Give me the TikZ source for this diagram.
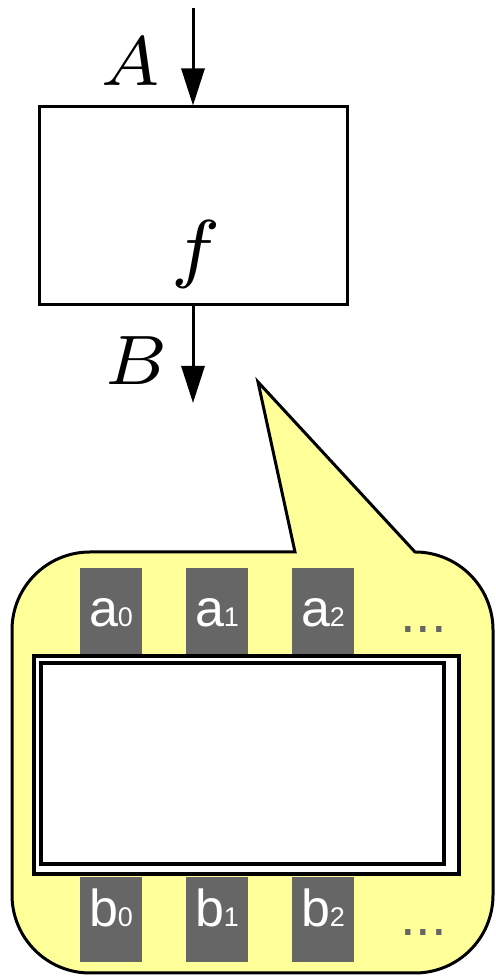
\documentclass[tikz,border=0pt]{standalone}
\usepackage{fontspec}
\newfontfamily\cellfont{Liberation Sans}
\usetikzlibrary{arrows.meta,positioning}
\definecolor{calloutyellow}{RGB}{255,255,153}
\definecolor{cellgray}{RGB}{102,102,102}
\newcommand{\cellsub}[2]{#1{\fontsize{27}{27}\selectfont #2}}
\tikzset{
  mathlabel/.style={inner sep=0pt,font=\scriptsize,scale=10},
  flow/.style={line width=3pt,-{Triangle[length=37pt,width=23pt]}},
  cellbox/.style={fill=cellgray,text=white,minimum width=62pt,inner sep=0pt,
    text depth=0pt,font=\cellfont\fontsize{52}{52}\selectfont},
  moredots/.style={anchor=base,inner sep=0pt,text=cellgray,
    font=\cellfont\fontsize{56}{56}\selectfont},
}

\begin{document}
\begin{tikzpicture}[x=1pt,y=1pt]
\useasboundingbox (0,0) rectangle (495,976);
% function box
\node[draw,line width=3pt,minimum width=308pt,minimum height=198pt,inner sep=0pt]
  (fbox) at (193,770) {};
\node[mathlabel,scale=1.09] (flabel) at (196,722) {$f$};
\coordinate (in) at (193,968);
\coordinate (out) at (193,573);
\draw[flow] (in) -- (fbox.north);
\draw[flow] (fbox.south) -- (out);
\node[mathlabel] (inlabel) at (131,914) {$A$};
\node[mathlabel] (outlabel) at (136,615) {$B$};
% callout
\draw[line width=3pt,fill=calloutyellow]
  (295,424) -- (258,594) -- (415,424)
  arc[start angle=90,end angle=0,radius=78] -- (493,81)
  arc[start angle=0,end angle=-90,radius=78] -- (90,3)
  arc[start angle=270,end angle=180,radius=78] -- (12,346)
  arc[start angle=180,end angle=90,radius=78] -- cycle;
\foreach \i/\x in {0/111,1/217,2/323}{
  \node[cellbox,minimum height=88pt,text height=30pt] (a\i) at (\x,364) {\cellsub{a}{\i}};
  \node[cellbox,minimum height=85pt,text height=15pt] (b\i) at (\x,56.5) {\cellsub{b}{\i}};}
% array box
\draw[line width=3.5pt,fill=white] (34,102) rectangle (459,320);
\draw[line width=3.5pt] (41,112) rectangle (444,313);
\node[moredots] (adots) at (423.5,343) {...};
\node[moredots] (bdots) at (423.5,40) {...};
\end{tikzpicture}
\end{document}
